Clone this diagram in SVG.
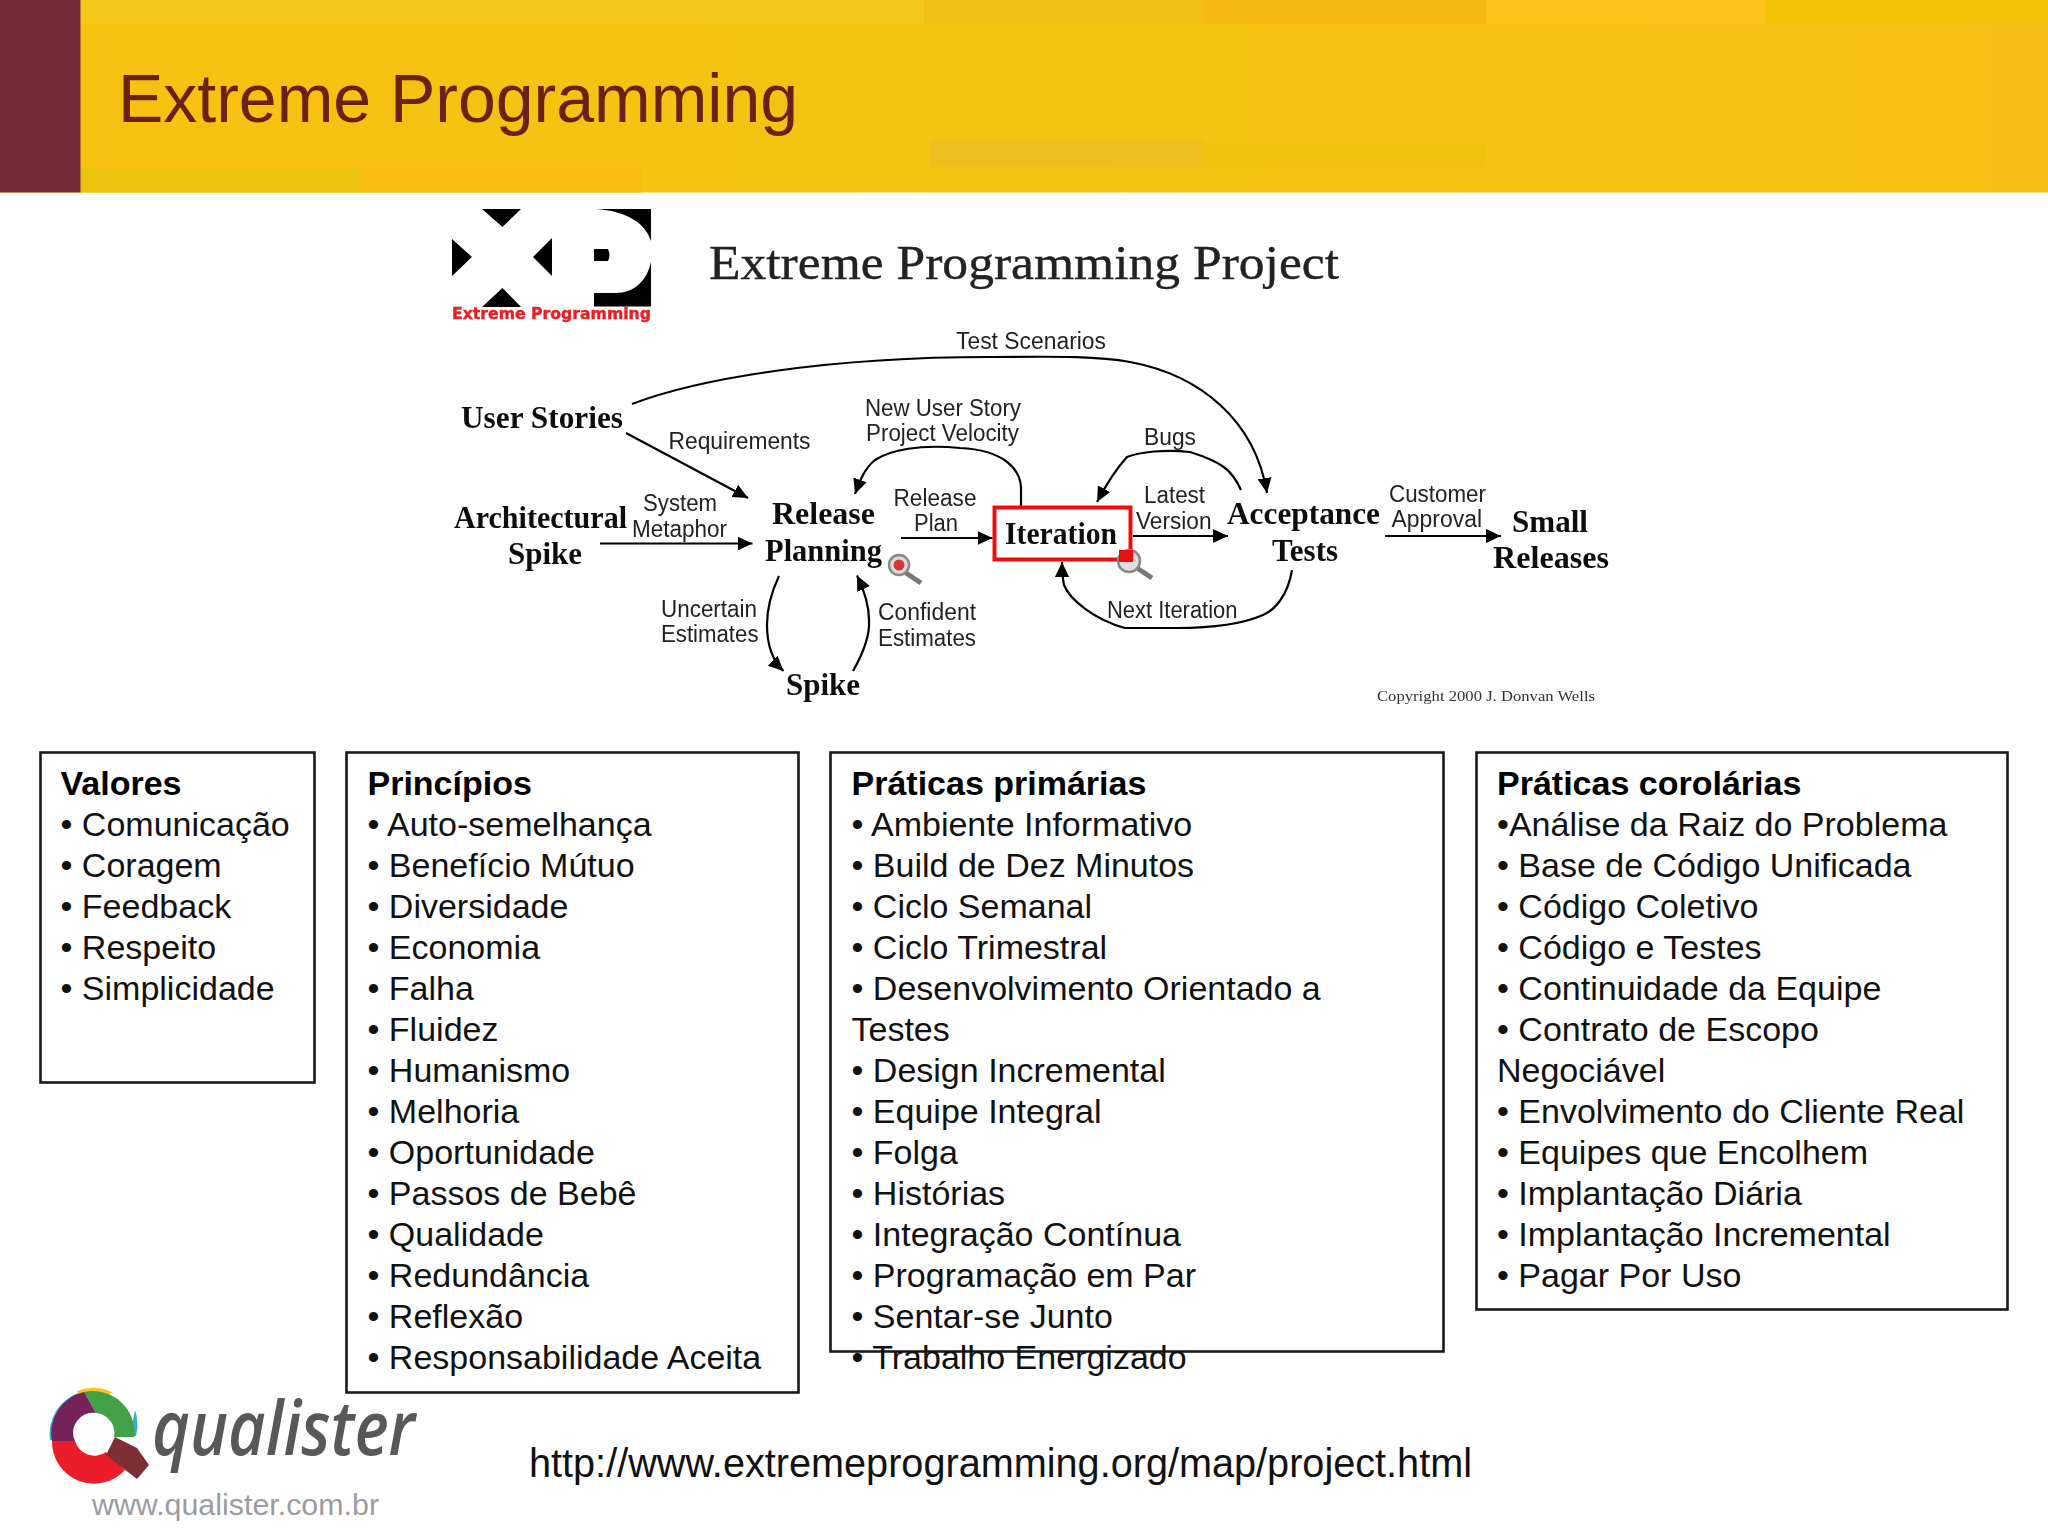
<svg xmlns="http://www.w3.org/2000/svg" width="2048" height="1536" viewBox="0 0 2048 1536">
<style>
.n{font-family:"Liberation Serif",serif;font-weight:700;font-size:32px;fill:#111}
.l{font-family:"Liberation Sans",sans-serif;font-size:23px;fill:#222}
.b{font-family:"Liberation Sans",Arial,sans-serif;font-size:34px;fill:#111}
.h{font-weight:700;fill:#000}
.box{fill:#fff;stroke:#1a1a1a;stroke-width:2.600}
.c{fill:none;stroke:#000;stroke-width:2.200;marker-end:url(#a)}
.soft{filter:url(#soft)}
</style>
<defs>
<linearGradient id="hd" x1="0" y1="0" x2="1" y2="0"><stop offset="0" stop-color="#f9c011"/><stop offset="0.5" stop-color="#f6c312"/><stop offset="1" stop-color="#f9be15"/></linearGradient>
<filter id="soft" x="-2%" y="-2%" width="104%" height="104%"><feGaussianBlur stdDeviation="0.55"/></filter>
<marker id="a" markerUnits="userSpaceOnUse" markerWidth="16" markerHeight="16" refX="15" refY="8" orient="auto"><path d="M0 1L15 8L0 15Z" fill="#000"/></marker>
</defs>
<rect width="2048" height="1536" fill="#fff"/>
<g id="header">
<rect width="2048" height="192.500" fill="url(#hd)"/>
<rect x="80" width="844" height="24" fill="#f3c71b"/>
<rect x="924" width="280" height="24" fill="#f2bf17"/>
<rect x="1204" width="282" height="24" fill="#f6b813"/>
<rect x="1486" width="280" height="24" fill="#fec119"/>
<rect x="1766" width="282" height="24" fill="#f2bf04"/>
<rect x="930" y="140" width="274" height="27" fill="#efbe1c"/>
<rect x="1204" y="143" width="282" height="24" fill="#f4c010"/>
<rect x="80" y="168" width="280" height="24.500" fill="#ecc30f"/>
<rect x="360" y="168" width="282" height="24.500" fill="#f9bc13"/>
<rect width="80.500" height="192.500" fill="#752a38"/>
<text x="118" y="121.500" font-family="Liberation Sans,sans-serif" font-size="68" fill="#6b2214" textLength="680" lengthAdjust="spacingAndGlyphs">Extreme Programming</text>
</g>
<g id="xp-diagram" class="soft">
<g id="xp-logo">
<path d="M482 209H521L502.500 227ZM452 239V276L472 257ZM552 238V276L533 257ZM482 307H521L502.500 288ZM596 209H651V241C645 222 625 211 596 209ZM651 262V306.500H594V293H615C635 293 647 280 651 262ZM594 249H608Q611 255 608 261H594Z" fill="#000"/>
<text x="452" y="319" font-family="DejaVu Sans,sans-serif" font-weight="700" font-size="15.500" fill="#ee1c25" stroke="#ee1c25" stroke-width="0.400" textLength="199" lengthAdjust="spacingAndGlyphs">Extreme Programming</text>
</g>
<text id="diagram-title" x="709" y="278.500" font-family="Liberation Serif,serif" font-size="49" fill="#222" stroke="#222" stroke-width="0.400" textLength="630" lengthAdjust="spacingAndGlyphs">Extreme Programming Project</text>
<g id="connectors">
<path class="c" d="M632 404C700 378 830 357 990 357C1040 357 1090 355 1130 362C1200 375 1255 420 1267 493"/>
<path class="c" d="M626 433L748 498"/>
<path class="c" d="M600 543.500H752.500"/>
<path class="c" d="M1021 506V487C1020 470 1005 450 960 448C920 444 890 450 875 460C865 468 860 480 855 494"/>
<path class="c" d="M901 538H992.500"/>
<path class="c" d="M1133 536H1228"/>
<path class="c" d="M1385 536H1501"/>
<path class="c" d="M1241 490C1232 470 1222 462 1190 452C1165 449 1140 452 1127 457C1115 470 1105 487 1097 502"/>
<path class="c" d="M1292 570C1288 595 1275 610 1263 615C1240 625 1210 628 1177 628H1125C1095 620 1070 600 1064 585C1062 575 1062 570 1062 562"/>
<path class="c" d="M779 576C770 595 767 610 767 625C767 645 772 660 783.500 671"/>
<path class="c" d="M853 671C865 650 870 635 869 620C869 605 864 590 857 575.500"/>
</g>
<g id="node-user-stories"><text class="n" x="461" y="428" textLength="162" lengthAdjust="spacingAndGlyphs">User Stories</text></g>
<g id="node-architectural-spike"><text class="n" x="454" y="528" textLength="173" lengthAdjust="spacingAndGlyphs">Architectural</text><text class="n" x="508" y="564" textLength="74" lengthAdjust="spacingAndGlyphs">Spike</text></g>
<g id="node-release-planning"><text class="n" x="772" y="524" textLength="103" lengthAdjust="spacingAndGlyphs">Release</text><text class="n" x="765" y="561" textLength="117" lengthAdjust="spacingAndGlyphs">Planning</text></g>
<g id="node-spike"><text class="n" x="786" y="695" textLength="74" lengthAdjust="spacingAndGlyphs">Spike</text></g>
<g id="node-iteration"><rect x="994.500" y="507.500" width="136" height="52" fill="#fff" stroke="#ee1111" stroke-width="4"/><text class="n" x="1005" y="544" textLength="112" lengthAdjust="spacingAndGlyphs">Iteration</text></g>
<g id="node-acceptance-tests"><text class="n" x="1227" y="524" textLength="153" lengthAdjust="spacingAndGlyphs">Acceptance</text><text class="n" x="1272" y="561" textLength="66" lengthAdjust="spacingAndGlyphs">Tests</text></g>
<g id="node-small-releases"><text class="n" x="1512" y="532" textLength="76" lengthAdjust="spacingAndGlyphs">Small</text><text class="n" x="1493" y="568" textLength="116" lengthAdjust="spacingAndGlyphs">Releases</text></g>
<g id="labels">
<text class="l" x="956" y="349" textLength="150" lengthAdjust="spacingAndGlyphs">Test Scenarios</text>
<text class="l" x="668.500" y="449" textLength="142" lengthAdjust="spacingAndGlyphs">Requirements</text>
<text class="l" x="865" y="415.500" textLength="156" lengthAdjust="spacingAndGlyphs">New User Story</text>
<text class="l" x="866" y="441" textLength="153" lengthAdjust="spacingAndGlyphs">Project Velocity</text>
<text class="l" x="643" y="511" textLength="74" lengthAdjust="spacingAndGlyphs">System</text>
<text class="l" x="632" y="537" textLength="95" lengthAdjust="spacingAndGlyphs">Metaphor</text>
<text class="l" x="893.500" y="505.500" textLength="83" lengthAdjust="spacingAndGlyphs">Release</text>
<text class="l" x="914" y="531" textLength="44" lengthAdjust="spacingAndGlyphs">Plan</text>
<text class="l" x="661" y="617" textLength="96" lengthAdjust="spacingAndGlyphs">Uncertain</text>
<text class="l" x="661" y="642" textLength="97.500" lengthAdjust="spacingAndGlyphs">Estimates</text>
<text class="l" x="878" y="620" textLength="98" lengthAdjust="spacingAndGlyphs">Confident</text>
<text class="l" x="878" y="646" textLength="98" lengthAdjust="spacingAndGlyphs">Estimates</text>
<text class="l" x="1144" y="444.500" textLength="52" lengthAdjust="spacingAndGlyphs">Bugs</text>
<text class="l" x="1144" y="503" textLength="61" lengthAdjust="spacingAndGlyphs">Latest</text>
<text class="l" x="1136" y="529" textLength="75.500" lengthAdjust="spacingAndGlyphs">Version</text>
<text class="l" x="1389" y="502" textLength="97" lengthAdjust="spacingAndGlyphs">Customer</text>
<text class="l" x="1391.500" y="527" textLength="90.500" lengthAdjust="spacingAndGlyphs">Approval</text>
<text class="l" x="1107" y="618" textLength="130.500" lengthAdjust="spacingAndGlyphs">Next Iteration</text>
<text x="1377" y="701" font-family="Liberation Serif,serif" font-size="15" fill="#333" textLength="218" lengthAdjust="spacingAndGlyphs">Copyright 2000 J. Donvan Wells</text>
</g>
<g id="magnifier-1"><path d="M906 573L921 583" stroke="#777" stroke-width="5" fill="none"/><circle cx="899" cy="565" r="10" fill="#ddd" stroke="#888" stroke-width="2.500"/><circle cx="899" cy="565" r="5.500" fill="#d8353a"/></g>
<g id="magnifier-2"><path d="M1137 568L1152 578" stroke="#777" stroke-width="5" fill="none"/><circle cx="1129" cy="561" r="11" fill="#ddd" stroke="#888" stroke-width="2.500"/><rect x="1119" y="550" width="14" height="12" fill="#ee1111"/></g>
</g>
<g id="box-valores">
<rect class="box" x="40.500" y="752.500" width="274" height="330"/>
<text class="b" x="60.500" y="795"><tspan class="h">Valores</tspan><tspan x="60.500" dy="41">• Comunicação</tspan><tspan x="60.500" dy="41">• Coragem</tspan><tspan x="60.500" dy="41">• Feedback</tspan><tspan x="60.500" dy="41">• Respeito</tspan><tspan x="60.500" dy="41">• Simplicidade</tspan></text>
</g>
<g id="box-principios">
<rect class="box" x="346.500" y="752.500" width="452" height="640"/>
<text class="b" x="367.500" y="795"><tspan class="h">Princípios</tspan><tspan x="367.500" dy="41">• Auto-semelhança</tspan><tspan x="367.500" dy="41">• Benefício Mútuo</tspan><tspan x="367.500" dy="41">• Diversidade</tspan><tspan x="367.500" dy="41">• Economia</tspan><tspan x="367.500" dy="41">• Falha</tspan><tspan x="367.500" dy="41">• Fluidez</tspan><tspan x="367.500" dy="41">• Humanismo</tspan><tspan x="367.500" dy="41">• Melhoria</tspan><tspan x="367.500" dy="41">• Oportunidade</tspan><tspan x="367.500" dy="41">• Passos de Bebê</tspan><tspan x="367.500" dy="41">• Qualidade</tspan><tspan x="367.500" dy="41">• Redundância</tspan><tspan x="367.500" dy="41">• Reflexão</tspan><tspan x="367.500" dy="41">• Responsabilidade Aceita</tspan></text>
</g>
<g id="box-praticas-primarias">
<rect class="box" x="830.500" y="752.500" width="613" height="599"/>
<text class="b" x="851.500" y="795"><tspan class="h">Práticas primárias</tspan><tspan x="851.500" dy="41">• Ambiente Informativo</tspan><tspan x="851.500" dy="41">• Build de Dez Minutos</tspan><tspan x="851.500" dy="41">• Ciclo Semanal</tspan><tspan x="851.500" dy="41">• Ciclo Trimestral</tspan><tspan x="851.500" dy="41">• Desenvolvimento Orientado a</tspan><tspan x="851.500" dy="41">Testes</tspan><tspan x="851.500" dy="41">• Design Incremental</tspan><tspan x="851.500" dy="41">• Equipe Integral</tspan><tspan x="851.500" dy="41">• Folga</tspan><tspan x="851.500" dy="41">• Histórias</tspan><tspan x="851.500" dy="41">• Integração Contínua</tspan><tspan x="851.500" dy="41">• Programação em Par</tspan><tspan x="851.500" dy="41">• Sentar-se Junto</tspan><tspan x="851.500" dy="41">• Trabalho Energizado</tspan></text>
</g>
<g id="box-praticas-corolarias">
<rect class="box" x="1476.500" y="752.500" width="531" height="557"/>
<text class="b" x="1497" y="795"><tspan class="h">Práticas corolárias</tspan><tspan x="1497" dy="41">•Análise da Raiz do Problema</tspan><tspan x="1497" dy="41">• Base de Código Unificada</tspan><tspan x="1497" dy="41">• Código Coletivo</tspan><tspan x="1497" dy="41">• Código e Testes</tspan><tspan x="1497" dy="41">• Continuidade da Equipe</tspan><tspan x="1497" dy="41">• Contrato de Escopo</tspan><tspan x="1497" dy="41">Negociável</tspan><tspan x="1497" dy="41">• Envolvimento do Cliente Real</tspan><tspan x="1497" dy="41">• Equipes que Encolhem</tspan><tspan x="1497" dy="41">• Implantação Diária</tspan><tspan x="1497" dy="41">• Implantação Incremental</tspan><tspan x="1497" dy="41">• Pagar Por Uso</tspan></text>
</g>
<text id="url" x="529" y="1476.500" font-family="Liberation Sans,sans-serif" font-size="40" fill="#111" textLength="943" lengthAdjust="spacingAndGlyphs">http://www.extremeprogramming.org/map/project.html</text>
<g id="qualister-logo" class="soft">
<path d="M50 1440A44 44 0 0 1 78 1393L82 1400A36 36 0 0 0 58 1440Z" fill="#2fb3c4"/>
<path d="M77 1391A44 44 0 0 1 112 1392L108 1396A40 40 0 0 0 80 1397Z" fill="#f3c91f"/>
<path d="M135 1410A44 44 0 0 1 136 1436L130 1436Z" fill="#2fb3c4"/>
<path d="M58 1462Q70 1472 85 1475L70 1470Z" fill="#f3c91f"/>
<path d="M84 1392A42 42 0 0 1 134.500 1437L114 1437A20 20 0 0 0 96 1413Z" fill="#43a047"/>
<path d="M84 1392A42 42 0 0 0 52 1441L75 1441A20 20 0 0 1 96 1413Z" fill="#76215a"/>
<path d="M52 1441A42 42 0 0 0 125 1470L106 1452A20 20 0 0 1 75 1441Z" fill="#ed1c2b"/>
<path d="M115 1437L137 1448L149 1465L137 1479L106 1455Z" fill="#7f2d35"/>
<text x="152" y="1455" font-family="Open Sans,sans-serif" font-style="italic" font-weight="600" font-size="76" fill="#59585a" textLength="263" lengthAdjust="spacingAndGlyphs">qualister</text>
</g>
<text id="website" x="92" y="1514.500" font-family="Liberation Sans,sans-serif" font-size="30" fill="#9b9ba0" textLength="287" lengthAdjust="spacingAndGlyphs">www.qualister.com.br</text>
</svg>
